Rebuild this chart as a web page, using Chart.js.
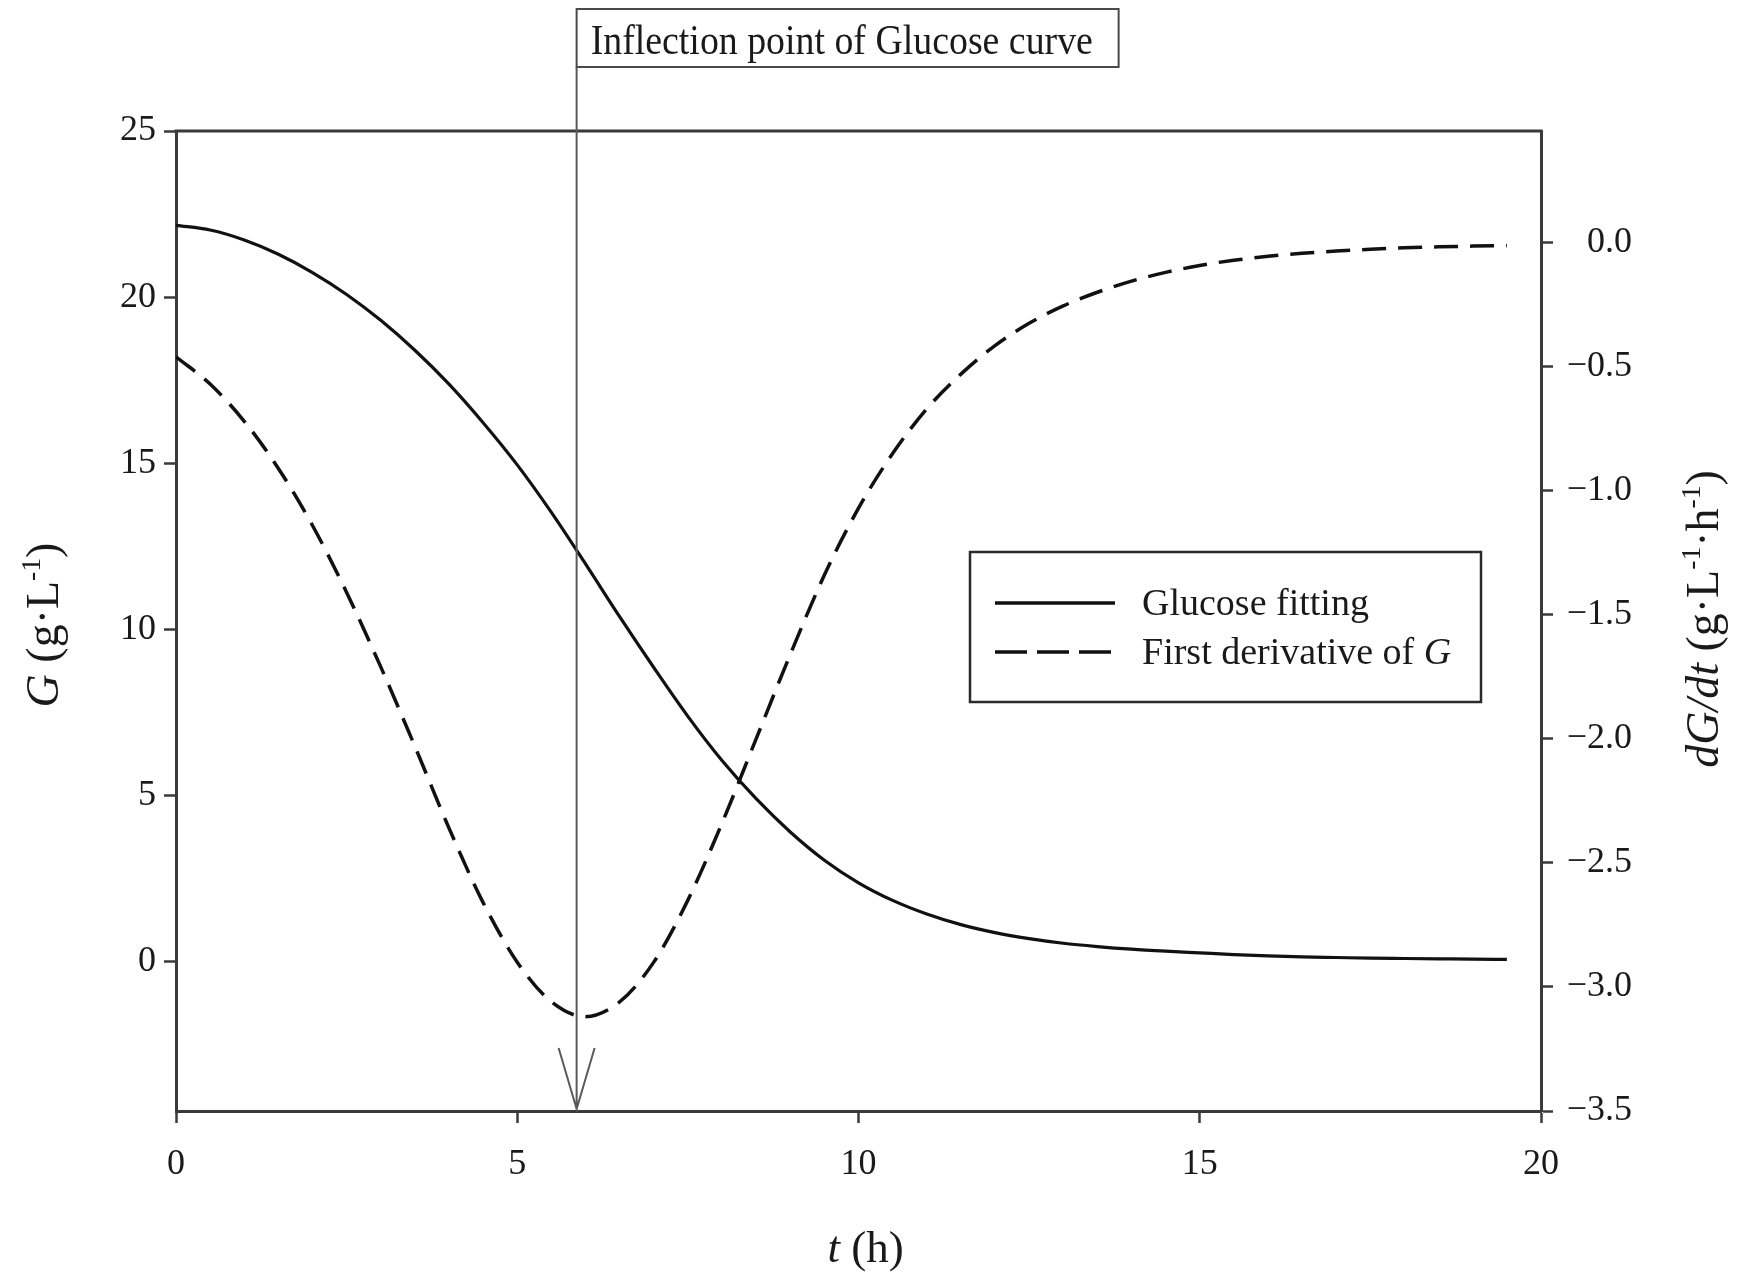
<!DOCTYPE html>
<html>
<head>
<meta charset="utf-8">
<title>Glucose fitting and first derivative</title>
<script src="https://cdn.jsdelivr.net/npm/chart.js@4.4.1/dist/chart.umd.min.js"></script>
<style>
  html, body { margin: 0; padding: 0; background: #fff; }
  #wrap { width: 1745px; height: 1278px; }
</style>
</head>
<body>
<div id="wrap"><canvas id="glucoseChart" width="1745" height="1278"></canvas></div>
<script>
// time in hours
const timeH = [0, 0.5, 1, 1.5, 2, 2.5, 3, 3.5, 4, 4.5, 5, 5.5, 6, 6.5, 7, 7.5, 8, 8.5, 9, 9.5,
  10, 10.5, 11, 11.5, 12, 12.5, 13, 13.5, 14, 14.5, 15, 15.5, 16, 16.5, 17, 17.5, 18, 18.5, 19, 19.5];

// fitted glucose, g/L
const glucose = [22.16, 22.02, 21.72, 21.29, 20.74, 20.08, 19.30, 18.40, 17.38, 16.22, 14.95, 13.52, 11.97, 10.38,
  8.85, 7.38, 6.05, 4.90, 3.90, 3.05, 2.37, 1.84, 1.43, 1.11, 0.87, 0.69, 0.55, 0.45, 0.37, 0.31,
  0.26, 0.21, 0.17, 0.14, 0.12, 0.10, 0.09, 0.08, 0.07, 0.065];

// dG/dt, g/(L*h)
const dGdt = [-0.46, -0.57, -0.72, -0.91, -1.14, -1.41, -1.71, -2.03, -2.36, -2.66, -2.90, -3.06, -3.12, -3.06,
  -2.90, -2.65, -2.34, -2.00, -1.66, -1.34, -1.07, -0.85, -0.67, -0.53, -0.415, -0.325, -0.255, -0.20,
  -0.155, -0.12, -0.092, -0.071, -0.055, -0.043, -0.034, -0.027, -0.021, -0.017, -0.014, -0.012];

const xTicks = [0, 5, 10, 15, 20];
const leftTicks = [0, 5, 10, 15, 20, 25];
const rightTicks = [-3.5, -3.0, -2.5, -2.0, -1.5, -1.0, -0.5, 0.0];

const inflectionT = 5.87;
const inflectionLabel = 'Inflection point of Glucose curve';

const SERIF = '"Liberation Serif", "Times New Roman", serif';
const INK = '#1a1a1a';
const AXIS = '#3a3a3a';

// rich text pieces: italic variables and superscript exponents
const xTitle = [{ t: 't', italic: true }, { t: ' (h)' }];
const yTitle = [{ t: 'G', italic: true }, { t: ' (g·L' }, { t: '-1', sup: true }, { t: ')' }];
const y2Title = [{ t: 'dG/dt', italic: true }, { t: ' (g·L' }, { t: '-1', sup: true }, { t: '·h' }, { t: '-1', sup: true }, { t: ')' }];
const legendLabels = [
  [{ t: 'Glucose fitting' }],
  [{ t: 'First derivative of ' }, { t: 'G', italic: true }]
];

function fontFor(p, size) {
  const s = p.sup ? size * 0.6 : size;
  return (p.italic ? 'italic ' : '') + s + 'px ' + SERIF;
}

function richWidth(ctx, parts, size) {
  let w = 0;
  parts.forEach(p => {
    ctx.font = fontFor(p, size);
    w += ctx.measureText(p.t).width;
  });
  return w;
}

// draws the pieces on an alphabetic baseline starting at x (or centred on x)
function drawRich(ctx, parts, x, y, size, align) {
  const w = richWidth(ctx, parts, size);
  let cx = align === 'center' ? x - w / 2 : x;
  ctx.textAlign = 'left';
  ctx.textBaseline = 'alphabetic';
  parts.forEach(p => {
    ctx.font = fontFor(p, size);
    ctx.fillText(p.t, cx, p.sup ? y - size * 0.4 : y);
    cx += ctx.measureText(p.t).width;
  });
}

const figureDecor = {
  id: 'figureDecor',
  afterDraw(chart) {
    const ctx = chart.ctx;
    const area = chart.chartArea;
    const xs = chart.scales.x;
    ctx.save();

    // top edge of the frame
    ctx.strokeStyle = AXIS;
    ctx.lineWidth = 3;
    ctx.beginPath();
    ctx.moveTo(area.left - 1.5, area.top);
    ctx.lineTo(area.right + 1.5, area.top);
    ctx.stroke();

    // inflection marker: vertical line, arrow head and label box
    const px = xs.getPixelForValue(inflectionT);
    const boxTop = 9, boxBottom = 67, boxW = 542;
    ctx.strokeStyle = '#5a5a5a';
    ctx.lineWidth = 2;
    ctx.beginPath();
    ctx.moveTo(px, boxBottom);
    ctx.lineTo(px, area.bottom);
    ctx.moveTo(px - 18, area.bottom - 63);
    ctx.lineTo(px, area.bottom - 2);
    ctx.lineTo(px + 18, area.bottom - 63);
    ctx.stroke();

    ctx.strokeStyle = '#4a4a4a';
    ctx.lineWidth = 2;
    ctx.strokeRect(px, boxTop, boxW, boxBottom - boxTop);
    ctx.fillStyle = INK;
    ctx.save();
    ctx.translate(px + 14, 54);
    ctx.scale(0.88, 1);
    ctx.font = '43px ' + SERIF;
    ctx.textAlign = 'left';
    ctx.textBaseline = 'alphabetic';
    ctx.fillText(inflectionLabel, 0, 0);
    ctx.restore();

    // legend
    const lx = 970, ly = 552, lw = 511, lh = 150;
    ctx.fillStyle = '#fff';
    ctx.fillRect(lx, ly, lw, lh);
    ctx.strokeStyle = '#2a2a2a';
    ctx.lineWidth = 2.5;
    ctx.strokeRect(lx, ly, lw, lh);
    chart.data.datasets.forEach((ds, i) => {
      const rowY = ly + 51 + i * 49;
      ctx.strokeStyle = ds.borderColor;
      ctx.lineWidth = 3.5;
      ctx.setLineDash(ds.borderDash ? [32, 10] : []);
      ctx.beginPath();
      ctx.moveTo(lx + 25, rowY);
      ctx.lineTo(lx + (ds.borderDash ? 141 : 145), rowY);
      ctx.stroke();
      ctx.setLineDash([]);
      ctx.fillStyle = INK;
      drawRich(ctx, legendLabels[i], lx + 172, rowY + 12, 38, 'left');
    });

    // axis titles
    ctx.fillStyle = INK;
    const midY = (area.top + area.bottom) / 2;
    drawRich(ctx, xTitle, (area.left + area.right) / 2 + 7, 1262, 45, 'center');

    ctx.save();
    ctx.translate(58, midY + 4);
    ctx.rotate(-Math.PI / 2);
    drawRich(ctx, yTitle, 0, 0, 46, 'center');
    ctx.restore();

    ctx.save();
    ctx.translate(1718, midY - 2);
    ctx.rotate(-Math.PI / 2);
    drawRich(ctx, y2Title, 0, 0, 46, 'center');
    ctx.restore();

    ctx.restore();
  }
};

function pairs(ys) {
  return timeH.map((t, i) => ({ x: t, y: ys[i] }));
}

const tickFont = { family: SERIF, size: 36 };

new Chart(document.getElementById('glucoseChart').getContext('2d'), {
  type: 'line',
  data: {
    datasets: [{
      label: 'Glucose fitting',
      data: pairs(glucose),
      yAxisID: 'y',
      borderColor: '#111',
      borderWidth: 3.2,
      pointRadius: 0,
      cubicInterpolationMode: 'monotone',
      fill: false
    },
    {
      label: 'First derivative of G',
      data: pairs(dGdt),
      yAxisID: 'y2',
      borderColor: '#111',
      borderWidth: 3.5,
      borderDash: [24, 12],
      pointRadius: 0,
      cubicInterpolationMode: 'monotone',
      fill: false
    }]
  },
  options: {
    responsive: false,
    devicePixelRatio: 1,
    animation: false,
    layout: { padding: { top: 131, right: 113, left: 0, bottom: 0 } },
    plugins: {
      legend: { display: false },
      tooltip: { enabled: false },
      title: { display: false }
    },
    scales: {
      x: {
        type: 'linear',
        min: 0,
        max: 20,
        afterBuildTicks: s => { s.ticks = xTicks.map(v => ({ value: v })); },
        afterFit: s => { s.height = 167; },
        grid: { drawOnChartArea: false, drawTicks: true, tickLength: 12, tickColor: AXIS, tickWidth: 2.5 },
        border: { display: true, color: AXIS, width: 3 },
        ticks: { font: tickFont, color: INK, padding: 20, maxRotation: 0 }
      },
      y: {
        type: 'linear',
        position: 'left',
        min: -4.5,
        max: 25,
        afterBuildTicks: s => { s.ticks = leftTicks.map(v => ({ value: v })); },
        afterFit: s => { s.width = 176; },
        grid: { drawOnChartArea: false, drawTicks: true, tickLength: 12, tickColor: AXIS, tickWidth: 2.5 },
        border: { display: true, color: AXIS, width: 3 },
        ticks: { font: tickFont, color: INK, padding: 8 }
      },
      y2: {
        type: 'linear',
        position: 'right',
        min: -3.5,
        max: 0.45,
        afterBuildTicks: s => { s.ticks = rightTicks.map(v => ({ value: v })); },
        afterFit: s => { s.width = 91; },
        grid: { drawOnChartArea: false, drawTicks: true, tickLength: 12, tickColor: AXIS, tickWidth: 2.5 },
        border: { display: true, color: AXIS, width: 3 },
        ticks: {
          font: tickFont,
          color: INK,
          padding: 16,
          crossAlign: 'far',
          callback: v => v.toFixed(1).replace('-', '\u2212')
        }
      }
    }
  },
  plugins: [figureDecor]
});
</script>
</body>
</html>
